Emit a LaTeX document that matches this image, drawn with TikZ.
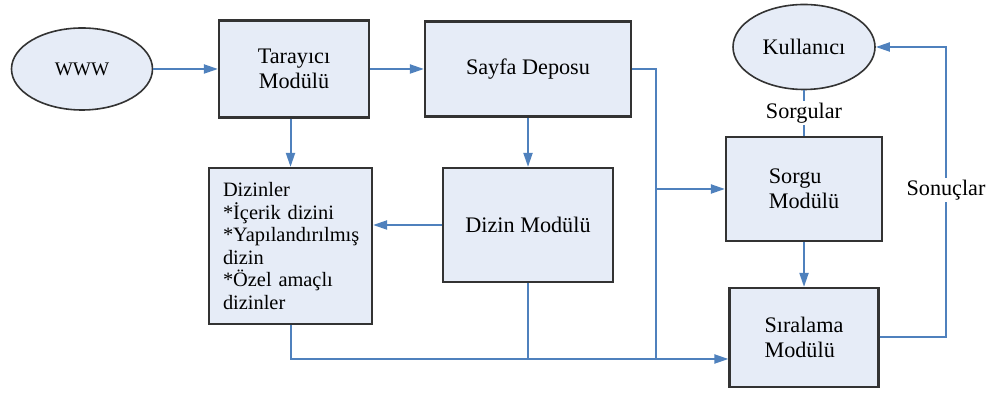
\documentclass[tikz,border=0pt]{standalone}
\usepackage{fontspec}
\setmainfont{Liberation Serif}
\usetikzlibrary{arrows.meta,shapes.geometric,calc}

\definecolor{boxfill}{RGB}{230,236,247}
\definecolor{linkblue}{RGB}{79,129,189}

\tikzset{
  modul/.style={rectangle,draw=black!80,line width=1.1pt,fill=boxfill,
    font=\fontsize{11.1}{12.3}\selectfont},
  actor/.style={ellipse,draw=black!80,line width=0.8pt,fill=boxfill,inner sep=0pt,
    font=\fontsize{11.1}{12.3}\selectfont},
  link/.style={draw=linkblue,line width=1pt},
  arr/.style={link,-{Triangle[length=7pt,width=4.5pt]}},
  lbl/.style={fill=white,inner sep=1pt,font=\fontsize{11.1}{12.3}\selectfont}
}

\begin{document}
\begin{tikzpicture}[x=0.5pt,y=-0.5pt]
  \useasboundingbox (0,0) rectangle (989,394);

  \begin{scope}[every node/.style={actor}]
    \node (www) at (82,69)  [minimum width=70.5pt,minimum height=41pt,font=\fontsize{9.6}{11}\selectfont] {WWW};
    \node (kul) at (804,47) [minimum width=71pt,minimum height=42.5pt] {Kullanıcı};
  \end{scope}

  \begin{scope}[every node/.style={modul}]
    \node (tar)   at (294,69)  [minimum width=75pt,minimum height=48.5pt,align=center] {Tarayıcı\\Modülü};
    \node (sayfa) at (528,69)  [minimum width=103pt,minimum height=47.5pt] {Sayfa Deposu};
    \node (dizinler) at (290.5,246) [minimum height=78pt,text width=67.5pt,inner xsep=7pt,align=left,
      font=\fontsize{10.2}{11.3}\selectfont]
      {Dizinler\\{*}İçerik dizini\\{*}Yapılandırılmış\\dizin\\{*}Özel amaçlı\\dizinler};
    \node (dizin) at (528,225)   [minimum width=85pt,minimum height=57pt] {Dizin Modülü};
    \node (sorgu) at (804,189)   [minimum width=78pt,minimum height=52pt,align=left] {Sorgu\\Modülü};
    \node (sira)  at (804,337.5) [minimum width=74.5pt,minimum height=49.5pt,align=left] {Sıralama\\Modülü};
  \end{scope}

  \coordinate (j2) at (656,359);
  \coordinate (j1) at (j2 |- sorgu.west);
  \coordinate (giris) at ($(sira.west)+(0,21.5)$);
  \coordinate (don) at (946,190);

  \draw[arr] (www) -- (tar);
  \draw[arr] (tar) -- (sayfa);
  \draw[arr] (dizinler.north |- tar.south) -- (dizinler.north);
  \draw[arr] (sayfa) -- (dizin);
  \draw[arr] (dizin) -- (dizin.west -| dizinler.east);

  \draw[link] (sayfa.east) -| (j2);
  \draw[arr] (j1) -- (sorgu.west);
  \draw[arr] (dizinler.south) |- (giris);
  \draw[link] (dizin.south) -- (dizin.south |- giris);

  \draw[arr] (sorgu) -- (sira);
  \draw[link] (kul) -- node[lbl] (sorgular) {Sorgular} (sorgu);
  \draw[arr] (sira.east) -| (don) node[lbl] (sonuc) {Sonuçlar} |- (kul.east);

\end{tikzpicture}
\end{document}
